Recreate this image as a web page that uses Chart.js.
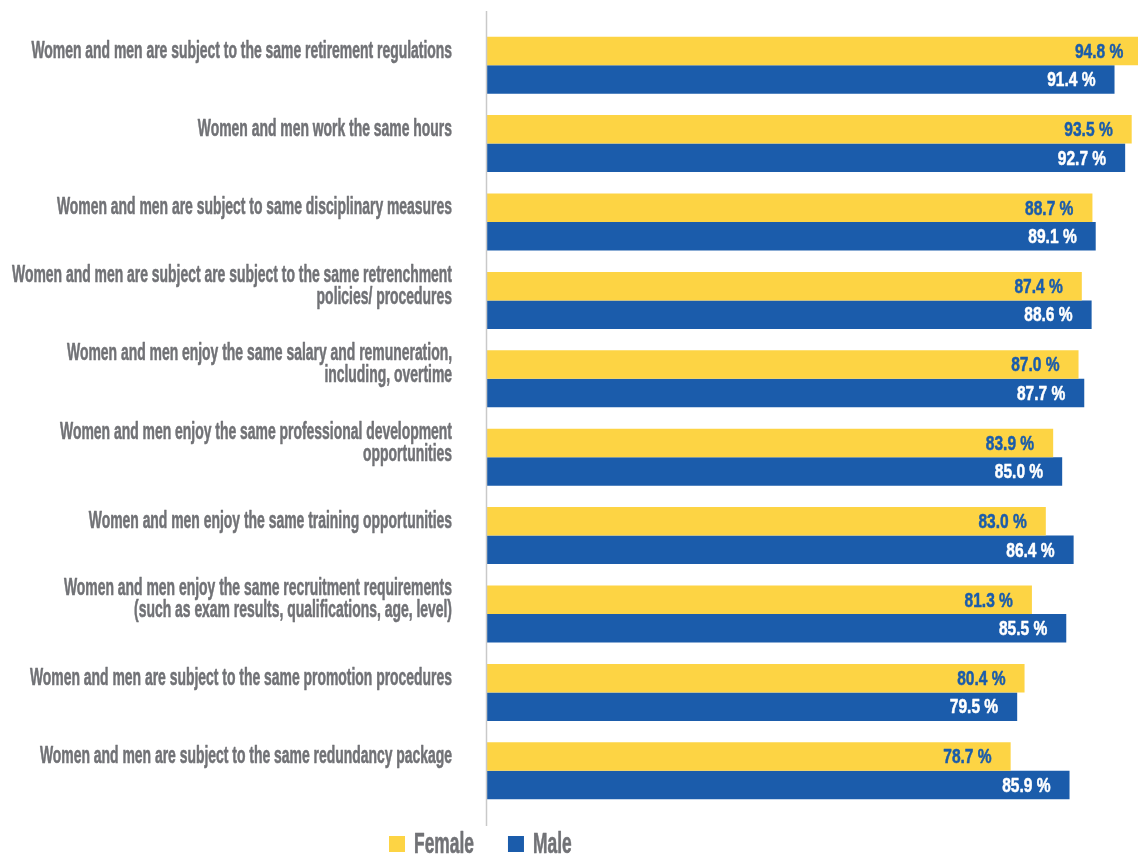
<!DOCTYPE html>
<html>
<head>
<meta charset="utf-8">
<title>Equal treatment of women and men</title>
<script src="https://cdn.jsdelivr.net/npm/chart.js@4/dist/chart.umd.min.js"></script>
<style>
  html, body { margin: 0; padding: 0; background: #fff; }
  #wrap { width: 1138px; height: 856px; position: relative; }
</style>
</head>
<body>
<div id="wrap"><canvas id="myChart"></canvas></div>
<script>
// statements, top to bottom (multi-line where they wrap)
const statements = [
  ['Women and men are subject to the same retirement regulations'],
  ['Women and men work the same hours'],
  ['Women and men are subject to same disciplinary measures'],
  ['Women and men are subject are subject to the same retrenchment', 'policies/ procedures'],
  ['Women and men enjoy the same salary and remuneration,', 'including, overtime'],
  ['Women and men enjoy the same professional development', 'opportunities'],
  ['Women and men enjoy the same training opportunities'],
  ['Women and men enjoy the same recruitment requirements', '(such as exam results, qualifications, age, level)'],
  ['Women and men are subject to the same promotion procedures'],
  ['Women and men are subject to the same redundancy package']
];
const femaleValues = [94.8, 93.5, 88.7, 87.4, 87.0, 83.9, 83.0, 81.3, 80.4, 78.7];
const maleValues   = [91.4, 92.7, 89.1, 88.6, 87.7, 85.0, 86.4, 85.5, 79.5, 85.9];
const seriesNames  = ['Female', 'Male'];

const YELLOW = '#fdd444';
const BLUE = '#1b5cab';
const GREY = '#717276';
const FONT = '"Liberation Sans Narrow", "Arial Narrow", sans-serif';

// draw text squeezed horizontally to get a condensed look,
// with a thin outline in the same colour to thicken the strokes
function squeezeText(ctx, text, x, y, sx, outline) {
  ctx.save();
  ctx.translate(x, y);
  ctx.scale(sx, 1);
  ctx.fillText(text, 0, 0);
  if (outline) {
    ctx.strokeStyle = ctx.fillStyle;
    ctx.lineWidth = outline;
    ctx.lineJoin = 'round';
    ctx.strokeText(text, 0, 0);
  }
  ctx.restore();
}

const customDraw = {
  id: 'customDraw',
  afterDatasetsDraw(chart) {
    const ctx = chart.ctx;
    const area = chart.chartArea;

    // vertical axis line
    ctx.save();
    ctx.strokeStyle = '#c9c9c9';
    ctx.lineWidth = 1.5;
    ctx.beginPath();
    ctx.moveTo(area.left - 0.5, area.top - 15);
    ctx.lineTo(area.left - 0.5, area.bottom + 16);
    ctx.stroke();
    ctx.restore();

    // category labels, centred on the female bar
    const femaleMeta = chart.getDatasetMeta(0);
    ctx.save();
    ctx.fillStyle = GREY;
    ctx.font = 'bold 24px ' + FONT;
    ctx.textAlign = 'right';
    ctx.textBaseline = 'middle';
    statements.forEach((lines, i) => {
      const cy = femaleMeta.data[i].y;
      const lh = 22;
      const y0 = cy - (lines.length - 1) * lh / 2;
      lines.forEach((line, k) => {
        squeezeText(ctx, line, 452, y0 + k * lh, 0.58, 0.6);
      });
    });
    ctx.restore();

    // value labels inside the bar ends
    ctx.save();
    ctx.font = 'bold 21px ' + FONT;
    ctx.textAlign = 'right';
    ctx.textBaseline = 'middle';
    chart.data.datasets.forEach((ds, d) => {
      const meta = chart.getDatasetMeta(d);
      ctx.fillStyle = d === 0 ? BLUE : '#ffffff';
      meta.data.forEach((bar, i) => {
        const txt = ds.data[i].toFixed(1) + ' %';
        squeezeText(ctx, txt, bar.x - 19, bar.y + 1, 0.74, 0.5);
      });
    });
    ctx.restore();

    // legend along the bottom
    ctx.save();
    ctx.font = 'bold 29px ' + FONT;
    ctx.textAlign = 'left';
    ctx.textBaseline = 'alphabetic';
    let x = 389;
    const sq = 16;
    const sqTop = 836;
    const sx = 0.6;
    chart.data.datasets.forEach((ds, d) => {
      ctx.fillStyle = ds.backgroundColor;
      ctx.fillRect(x, sqTop, sq, sq);
      x += sq + 9;
      ctx.fillStyle = GREY;
      squeezeText(ctx, ds.label, x, 853, sx, 0.6);
      x += ctx.measureText(ds.label).width * sx + 34;
    });
    ctx.restore();
  }
};

const ctx = document.getElementById('myChart').getContext('2d');
const myChart = new Chart(ctx, {
  type: 'bar',
  data: {
    labels: statements,
    datasets: [
      { label: seriesNames[0], data: femaleValues, backgroundColor: YELLOW },
      { label: seriesNames[1], data: maleValues, backgroundColor: BLUE }
    ]
  },
  options: {
    indexAxis: 'y',
    responsive: true,
    maintainAspectRatio: false,
    animation: false,
    events: [],
    layout: { padding: { top: 26, bottom: 46, left: 0, right: 0 } },
    datasets: {
      bar: { categoryPercentage: 0.727, barPercentage: 1.0 }
    },
    scales: {
      x: {
        display: false,
        min: 14.68,
        max: 94.27
      },
      y: {
        grid: { display: false },
        border: { display: false },
        ticks: { display: false },
        afterFit(scale) { scale.width = 487; }
      }
    },
    plugins: {
      legend: { display: false },
      tooltip: { enabled: false }
    }
  },
  plugins: [customDraw]
});
</script>
</body>
</html>
